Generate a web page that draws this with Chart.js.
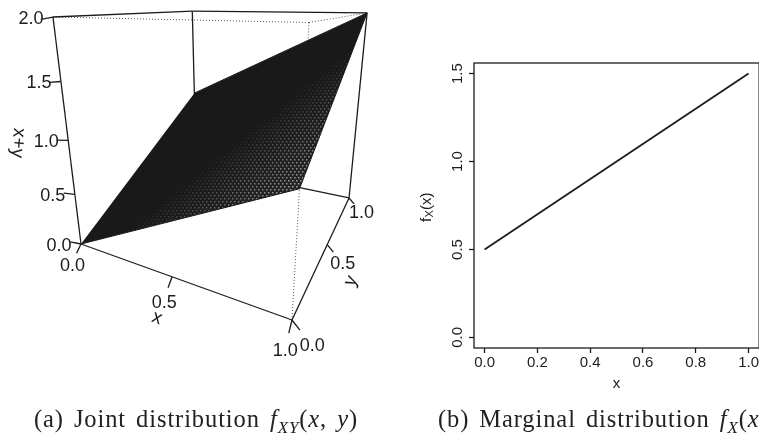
<!DOCTYPE html>
<html>
<head>
<meta charset="utf-8">
<script src="https://cdn.jsdelivr.net/npm/chart.js@4"></script>
<style>
    html, body { margin: 0; padding: 0; background: #fff; overflow: hidden; }
    #page { position: relative; width: 759px; height: 433px; overflow: hidden; }
    #leftBox { position: absolute; left: 0; top: 0; width: 400px; height: 433px; }
    #rightBox { position: absolute; left: 410px; top: 0; width: 350px; height: 433px; }
    .caption { position: absolute; top: 405px; font-family: "Liberation Serif", serif; font-size: 24.5px; color: #222; white-space: nowrap; letter-spacing: 0.9px; word-spacing: 3px; }
    .caption i sub { font-size: 17px; line-height: 0; }
</style>
</head>
<body>
<div id="page">
    <div id="leftBox"><canvas id="jointCanvas" width="400" height="433"></canvas></div>
    <div id="rightBox"><canvas id="marginalCanvas" width="350" height="433"></canvas></div>
    <div class="caption" style="left:34px">(a) Joint distribution <i>f<sub>XY</sub></i>(<i>x</i>, <i>y</i>)</div>
    <div class="caption" style="left:438px">(b) Marginal distribution <i>f<sub>X</sub></i>(<i>x</i>)</div>
</div>
<script>
// joint surface corners, in data units
const surfaceX = [0, 1, 1, 0]
const surfaceY = [0, 0, 1, 1]
const surfaceZ = [0, 1, 2, 1]

const jointTicksX = [0, 0.5, 1]
const jointTicksY = [0, 0.5, 1]
const jointTicksZ = [0, 0.5, 1, 1.5, 2]

// marginal line
const marginalX = [0, 1]
const marginalY = [0.5, 1.5]
const marginalTicksX = [0, 0.2, 0.4, 0.6, 0.8, 1]
const marginalTicksY = [0, 0.5, 1, 1.5]

const INK = '#1c1c1c'
const SANS = '"Liberation Sans", Arial, sans-serif'

// perspective view of the box, same idea as persp() in R
function project(x, y, z) {
    const t = z / 2
    const px = 81 + 140.9 * x + 207.4 * y - 36.5 * t
    const py = 244 - 0.8 * x + 0.3 * y - 229.7 * t
    const w = 1 - 0.24 * x + 0.47 * y - 0.16 * t
    return { x: px / w, y: py / w }
}

function edge(a, b) {
    return [project(a[0], a[1], a[2]), project(b[0], b[1], b[2])]
}

function lineSet(points, dashed) {
    return {
        data: points,
        showLine: true,
        pointRadius: 0,
        borderColor: dashed ? '#555' : INK,
        borderWidth: dashed ? 1 : 1.3,
        borderDash: dashed ? [1, 2] : [],
        fill: false,
        clip: false
    }
}

// dotted texture of the very fine mesh, it opens up toward the near corner
function meshTexture() {
    const c = document.createElement('canvas')
    c.width = 400
    c.height = 433
    const g = c.getContext('2d')
    g.fillStyle = '#191919'
    g.fillRect(0, 0, 400, 433)
    const opening = (col, row) => {
        const diagonal = 244 - (col - 81) * 0.808
        return Math.min(1, Math.max(0, (row - diagonal - 18) / 105))
    }
    for (let row = 0; row < 433; row += 2) {
        for (let col = 0; col < 400; col += 2) {
            g.fillStyle = `rgba(255,255,255,${(opening(col, row) * 0.06).toFixed(3)})`
            g.fillRect(col, row, 2, 2)
        }
    }
    for (let n = 0; n * 3 < 433; n++) {
        for (let col = (n % 2 === 0 ? 0 : 2); col < 400; col += 4) {
            g.fillStyle = `rgba(255,255,255,${(opening(col, n * 3) * 0.65).toFixed(3)})`
            g.fillRect(col, n * 3, 1.5, 1.5)
        }
    }
    return c
}

const surfaceCtx = document.getElementById('jointCanvas').getContext('2d')
const surfacePoints = surfaceX.map((v, i) => project(v, surfaceY[i], surfaceZ[i]))

const tickSets = []
jointTicksX.forEach(v => tickSets.push(lineSet(edge([v, 0, 0], [v, -0.03, -0.06]))))
jointTicksY.forEach(v => tickSets.push(lineSet(edge([1, v, 0], [1.03, v, -0.06]))))
jointTicksZ.forEach(v => tickSets.push(lineSet(edge([0, 0, v], [-0.07, 0, v - 0.02]))))

// first dataset is painted last by Chart.js
const jointSets = [
    ...tickSets,
    lineSet(edge([0, 0, 0], [1, 0, 0])),
    lineSet(edge([1, 0, 0], [1, 1, 0])),
    {
        data: surfacePoints,
        showLine: true,
        pointRadius: 0,
        borderColor: '#191919',
        borderWidth: 1,
        backgroundColor: surfaceCtx.createPattern(meshTexture(), 'no-repeat'),
        fill: 'shape',
        clip: false
    },
    lineSet(edge([0, 0, 0], [0, 0, 2])),
    lineSet(edge([0, 0, 2], [0, 1, 2])),
    lineSet(edge([0, 1, 2], [1, 1, 2])),
    lineSet(edge([1, 1, 0], [1, 1, 2])),
    lineSet(edge([0, 1, 0], [1, 1, 0])),
    lineSet(edge([0, 1, 0], [0, 1, 2])),
    lineSet(edge([0, 0, 2], [1, 0, 2]), true),
    lineSet(edge([1, 0, 2], [1, 1, 2]), true),
    lineSet(edge([1, 0, 0], [1, 0, 2]), true)
]

function putText(ctx, text, x, y, size, angle) {
    ctx.save()
    ctx.translate(x, y)
    ctx.rotate((angle || 0) * Math.PI / 180)
    ctx.font = `${size}px ${SANS}`
    ctx.fillStyle = INK
    ctx.textAlign = 'center'
    ctx.textBaseline = 'middle'
    ctx.fillText(text, 0, 0)
    ctx.restore()
}

const jointLabels = {
    id: 'jointLabels',
    afterDraw(chart) {
        const ctx = chart.ctx
        const sx = chart.scales.x
        const sy = chart.scales.y
        const put = (text, p, dx, dy) => putText(ctx, text, sx.getPixelForValue(p.x) + dx, sy.getPixelForValue(p.y) + dy, 18)
        jointTicksX.forEach(v => put(v.toFixed(1), project(v, -0.06, -0.16), 0, 0))
        jointTicksY.forEach(v => put(v.toFixed(1), project(1.08, v, -0.16), -1, -1))
        jointTicksZ.forEach(v => put(v.toFixed(1), project(0, 0, v), -22, 2))
        putText(ctx, 'x', 157, 318, 19, 20)
        putText(ctx, 'y', 351, 281, 19, -65)
        putText(ctx, 'x+y', 18, 143, 19, 95)
    }
}

new Chart(surfaceCtx, {
    type: 'scatter',
    data: { datasets: jointSets },
    options: {
        responsive: false,
        animation: false,
        layout: { padding: 0 },
        plugins: { legend: { display: false }, tooltip: { enabled: false } },
        scales: {
            x: { display: false, min: 0, max: 400 },
            y: { display: false, min: 0, max: 433, reverse: true }
        }
    },
    plugins: [jointLabels]
})

const marginalDecor = {
    id: 'marginalDecor',
    afterDraw(chart) {
        const ctx = chart.ctx
        const a = chart.chartArea
        ctx.save()
        ctx.strokeStyle = INK
        ctx.lineWidth = 1.3
        ctx.strokeRect(a.left, a.top, a.right - a.left, a.bottom - a.top)
        ctx.restore()
        marginalTicksY.forEach(v => {
            putText(ctx, v.toFixed(1), 48, chart.scales.y.getPixelForValue(v), 15, -90)
        })
        // axis title with a subscript
        ctx.save()
        ctx.translate(17, 205)
        ctx.rotate(-Math.PI / 2)
        ctx.fillStyle = INK
        ctx.textBaseline = 'middle'
        ctx.textAlign = 'left'
        ctx.font = `15px ${SANS}`
        ctx.fillText('f', -17, 0)
        ctx.font = `11px ${SANS}`
        ctx.fillText('X', -12.5, 3)
        ctx.font = `15px ${SANS}`
        ctx.fillText('(x)', -5, 0)
        ctx.restore()
    }
}

const axisBase = {
    type: 'linear',
    border: { display: false },
    grid: { drawOnChartArea: false, drawTicks: true, tickLength: 5, tickColor: INK, tickWidth: 1.3 }
}

new Chart(document.getElementById('marginalCanvas'), {
    type: 'scatter',
    data: {
        datasets: [{
            data: marginalX.map((v, i) => ({ x: v, y: marginalY[i] })),
            showLine: true,
            pointRadius: 0,
            borderColor: INK,
            borderWidth: 1.8
        }]
    },
    options: {
        responsive: false,
        animation: false,
        layout: { padding: { top: 63 } },
        plugins: { legend: { display: false }, tooltip: { enabled: false } },
        scales: {
            x: {
                ...axisBase,
                min: -0.04,
                max: 1.04,
                afterBuildTicks: s => { s.ticks = marginalTicksX.map(v => ({ value: v })) },
                afterFit: s => { s.height = 85 },
                ticks: {
                    autoSkip: false,
                    maxRotation: 0,
                    padding: 1,
                    color: INK,
                    font: { family: SANS, size: 15 },
                    callback: v => v.toFixed(1)
                },
                title: { display: true, text: 'x', color: INK, padding: { top: 3, bottom: 40 }, font: { family: SANS, size: 15 } }
            },
            y: {
                ...axisBase,
                min: -0.06,
                max: 1.56,
                afterBuildTicks: s => { s.ticks = marginalTicksY.map(v => ({ value: v })) },
                afterFit: s => { s.width = 64 },
                ticks: { display: false }
            }
        }
    },
    plugins: [marginalDecor]
})
</script>
</body>
</html>
